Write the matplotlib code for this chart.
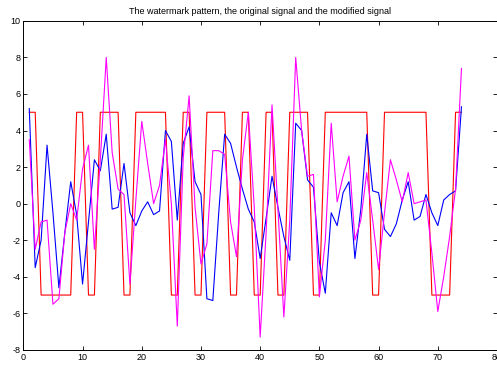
import numpy as np
import matplotlib
matplotlib.use('Agg')
import matplotlib.pyplot as plt
matplotlib.rcParams['axes.unicode_minus'] = False
matplotlib.rcParams['font.family'] = ['Liberation Sans', 'DejaVu Sans']

# 水印图案 (±5)
pattern = [5, 5, -5, -5, -5, -5, -5, -5, 5, 5,
           -5, -5, 5, 5, 5, 5, -5, -5, 5, 5,
           5, 5, 5, 5, -5, -5, 5, 5, -5, -5,
           5, 5, 5, 5, -5, -5, 5, 5, -5, -5,
           5, 5, -5, -5, 5, 5, 5, 5, -5, -5,
           5, 5, 5, 5, 5, 5, 5, 5, -5, -5,
           5, 5, 5, 5, 5, 5, 5, 5, -5, -5,
           -5, -5, 5, 5]

# 原始信号
original = [5.2, -3.5, -2.0, 3.2, -0.5, -4.6, -1.6, 1.2, -0.6, -4.4,
            -1.0, 2.4, 1.8, 3.8, -0.3, -0.2, 2.2, -0.5, -1.2, -0.4,
            0.1, -0.6, -0.4, 4.0, 3.4, -0.9, 3.3, 4.2, 1.2, 0.5,
            -5.2, -5.3, -0.5, 3.8, 3.3, 2.0, 0.8, -0.3, -1.0, -3.0,
            -0.8, 1.5, -0.2, -1.8, -3.1, 4.4, 4.0, 1.3, 0.9, -3.2,
            -4.9, -0.5, -1.2, 0.6, 1.2, -3.0, -0.3, 3.8, 0.7, 0.6,
            -1.4, -1.8, -1.1, 0.2, 1.2, -0.9, -0.7, 0.5, -0.5, -1.2,
            0.2, 0.5, 0.7, 5.3]

# 加水印后的信号
modified = [3.5, -2.5, -1.0, -0.9, -5.5, -5.2, -1.6, 0.0, -0.9, 1.9,
            3.2, -2.5, 2.4, 8.0, 2.8, 0.8, 0.5, -4.4, 0.2, 4.5,
            2.2, 0.0, 1.0, 3.5, 0.0, -6.7, 2.5, 5.9, -0.2, -3.3,
            -2.2, 2.9, 2.9, 2.7, -1.0, -2.9, 2.4, 5.0, -0.2, -7.3,
            -1.6, 5.4, -0.3, -6.2, -0.9, 8.0, 4.0, 1.5, 1.6, -5.1,
            -2.0, 4.4, 0.1, 1.5, 2.6, -2.0, -0.9, 1.7, -0.9, -3.6,
            -0.5, 2.4, 1.3, 0.1, 1.7, 0.0, 0.1, 0.2, -2.7, -5.9,
            -4.0, -1.8, 0.8, 7.4]

x = np.arange(1, len(pattern) + 1)

fig = plt.figure(figsize=(4.97, 3.66), dpi=100)
ax = fig.add_axes([0.047, 0.044, 0.953, 0.899])

ax.plot(x, pattern, color='#ff0000', linewidth=0.8)
ax.plot(x, original, color='#0000ff', linewidth=0.8)
ax.plot(x, modified, color='#ff00ff', linewidth=0.8)

ax.set_xlim(0, 80)
ax.set_ylim(-8, 10)
ax.set_xticks(range(0, 81, 10))
ax.set_yticks(range(-8, 11, 2))
ax.tick_params(direction='in', length=3, width=0.6, labelsize=6.5,
               top=True, right=True, pad=2)
for s in ax.spines.values():
    s.set_linewidth(0.7)

ax.set_title('The watermark pattern, the original signal and the modified signal',
             fontsize=6.5, pad=5)

plt.savefig('out.png', dpi=100)
plt.close()
